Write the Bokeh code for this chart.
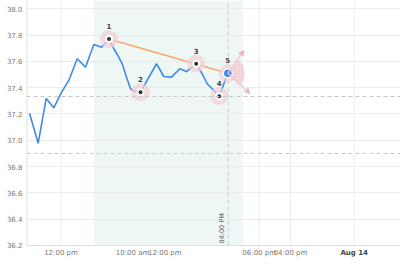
import math
from bokeh.plotting import figure
from bokeh.models import Range1d, FixedTicker, Span, Arrow, NormalHead, NumeralTickFormatter
from bokeh.core.properties import value
from bokeh.embed import file_html
from bokeh.resources import INLINE

# ---- data ----
xs = [3, 11.7, 19.7, 27.3, 35, 42.3, 50.7, 59, 67.3, 75, 82.5, 87.3, 92.3, 96, 100,
      104, 107.3, 114, 130, 137.3, 145, 153.3, 160, 169.7, 175.7, 180.7, 185.7, 192.7, 201.3]
ys = [37.206, 36.978, 37.318, 37.247, 37.364, 37.455, 37.620, 37.556, 37.729, 37.708,
      37.770, 37.696, 37.632, 37.576, 37.480, 37.392, 37.375, 37.366, 37.582, 37.485,
      37.480, 37.544, 37.523, 37.582, 37.506, 37.430, 37.392, 37.335, 37.510]
marked_idx = [10, 17, 23, 27]          # points 1-4
marked_names = ["1", "2", "3", "4"]
last_idx = 28                           # point 5
last_name = "5"
shade_start, shade_end = 67.3, 216.7
hlines = [37.333, 36.9]
vline_x = 201.7
vline_label = "04:00 PM"
arrow_ends_x = [217.3, 223.5]
arrow_ends_y = [37.683, 37.356]
x_ticks = [34.5, 106, 138.3, 232.7, 264, 327.7]
x_labels = ["12:00 pm", "10:00 am", "12:00 pm", "06:00 pm", "04:00 pm", "Aug 14"]
x_bold = [False, False, False, False, False, True]
x_grid = [34.5, 232.7, 264, 327.7]
y_ticks = [36.2, 36.4, 36.6, 36.8, 37.0, 37.2, 37.4, 37.6, 37.8, 38.0]

FONT = "DejaVu Sans"
Y0, Y1 = 36.2, 38.063
Y_BOTTOM = 36.0327

p = figure(width=400, height=267, output_backend="svg", toolbar_location=None,
           x_range=Range1d(0, 374), y_range=Range1d(Y_BOTTOM, Y1),
           min_border_left=26, min_border_right=0, min_border_top=0, min_border_bottom=0)
p.outline_line_color = None
p.background_fill_color = "white"

# y axis
p.yaxis.ticker = FixedTicker(ticks=y_ticks)
p.yaxis.formatter = NumeralTickFormatter(format="0.0")
p.yaxis.major_tick_line_color = None
p.yaxis.minor_tick_line_color = None
p.yaxis.major_tick_out = 0
p.yaxis.major_tick_in = 0
p.yaxis.minor_tick_out = 0
p.yaxis.axis_line_color = None
p.yaxis.major_label_text_font = FONT
p.yaxis.major_label_text_font_size = "7px"
p.yaxis.major_label_text_color = "#777777"
p.yaxis.major_label_standoff = 4
p.xaxis.visible = False

p.ygrid.ticker = FixedTicker(ticks=y_ticks)
p.ygrid.grid_line_color = "#ececec"
p.xgrid.visible = False

# shaded region
p.quad(left=[shade_start], right=[shade_end], bottom=[Y0], top=[Y1],
       fill_color="#eef7f3", line_color=None, level="image")

# vertical grid lines and axis lines
p.segment(x0=x_grid, x1=x_grid, y0=[Y0] * len(x_grid), y1=[Y1] * len(x_grid),
          line_color="#ececec", line_width=1, level="underlay")
p.segment(x0=[0], x1=[0], y0=[Y0], y1=[Y1], line_color="#e0e0e0", line_width=2)
p.segment(x0=[0], x1=[374], y0=[Y0], y1=[Y0], line_color="#e0e0e0", line_width=1)

# reference lines
for h in hlines:
    p.add_layout(Span(location=h, dimension="width", line_color="#c8c8c8",
                      line_dash="4 3", line_width=1))
p.segment(x0=[vline_x], x1=[vline_x], y0=[Y0], y1=[Y1], line_color="#c8c8c8",
          line_dash="4 3", line_width=1)

# main line
p.line(xs, ys, line_color="#3f8ae6", line_width=1.6)

# trend line from point 1 to point 5
p.line([xs[marked_idx[0]], xs[last_idx]], [ys[marked_idx[0]], ys[last_idx]],
       line_color="#f6a86e", line_width=1.6)

# fan at last point
x5, y5 = xs[last_idx], ys[last_idx]
p.wedge(x=[x5], y=[y5], radius=17, radius_units="screen",
        start_angle=-0.8, end_angle=0.95,
        fill_color="#f5c9ce", fill_alpha=0.6, line_color=None,
        hatch_pattern="dot", hatch_color="#e9a3ac", hatch_scale=3, hatch_alpha=0.6)
for ex, ey in zip(arrow_ends_x, arrow_ends_y):
    p.add_layout(Arrow(end=NormalHead(size=5, fill_color="#f0b6bd", line_color="#f0b6bd"),
                       x_start=x5, y_start=y5, x_end=ex, y_end=ey,
                       line_color="#f3c3c9", line_width=1.3))

# markers
mx = [xs[i] for i in marked_idx]
my = [ys[i] for i in marked_idx]
p.scatter(mx + [x5], my + [y5], size=18, fill_color="#f2cfd4", fill_alpha=0.7, line_color=None)
p.scatter(mx, my, size=8, fill_color="white", line_color=None)
p.scatter(mx, my, size=4, fill_color="#333333", line_color=None)
p.scatter([x5], [y5], size=9, fill_color="#3f8ae6", line_color="white", line_width=1.5)

p.text(mx + [x5], my + [y5], text=marked_names + [last_name], y_offset=-13,
       text_align="center", text_baseline="middle", text_font=value(FONT),
       text_font_size="7px", text_font_style="bold", text_color="#444444")

# rotated label on vertical line
p.text([vline_x], [Y0], text=[vline_label], angle=math.pi / 2, x_offset=-6.5, y_offset=-2,
       text_align="left", text_baseline="middle", text_font=value(FONT),
       text_font_size="6.5px", text_color="#555555")

# x tick labels
nx = [t for t, b in zip(x_ticks, x_bold) if not b]
nl = [l for l, b in zip(x_labels, x_bold) if not b]
bx = [t for t, b in zip(x_ticks, x_bold) if b]
bl = [l for l, b in zip(x_labels, x_bold) if b]
p.text(nx, [Y0] * len(nx), text=nl, y_offset=8, text_align="center", text_baseline="middle",
       text_font=value(FONT), text_font_size="7px", text_color="#777777")
p.text(bx, [Y0] * len(bx), text=bl, y_offset=8, text_align="center", text_baseline="middle",
       text_font=value(FONT), text_font_size="7px", text_font_style="bold", text_color="#444444")

open("out.html", "w").write(file_html(p, INLINE))
